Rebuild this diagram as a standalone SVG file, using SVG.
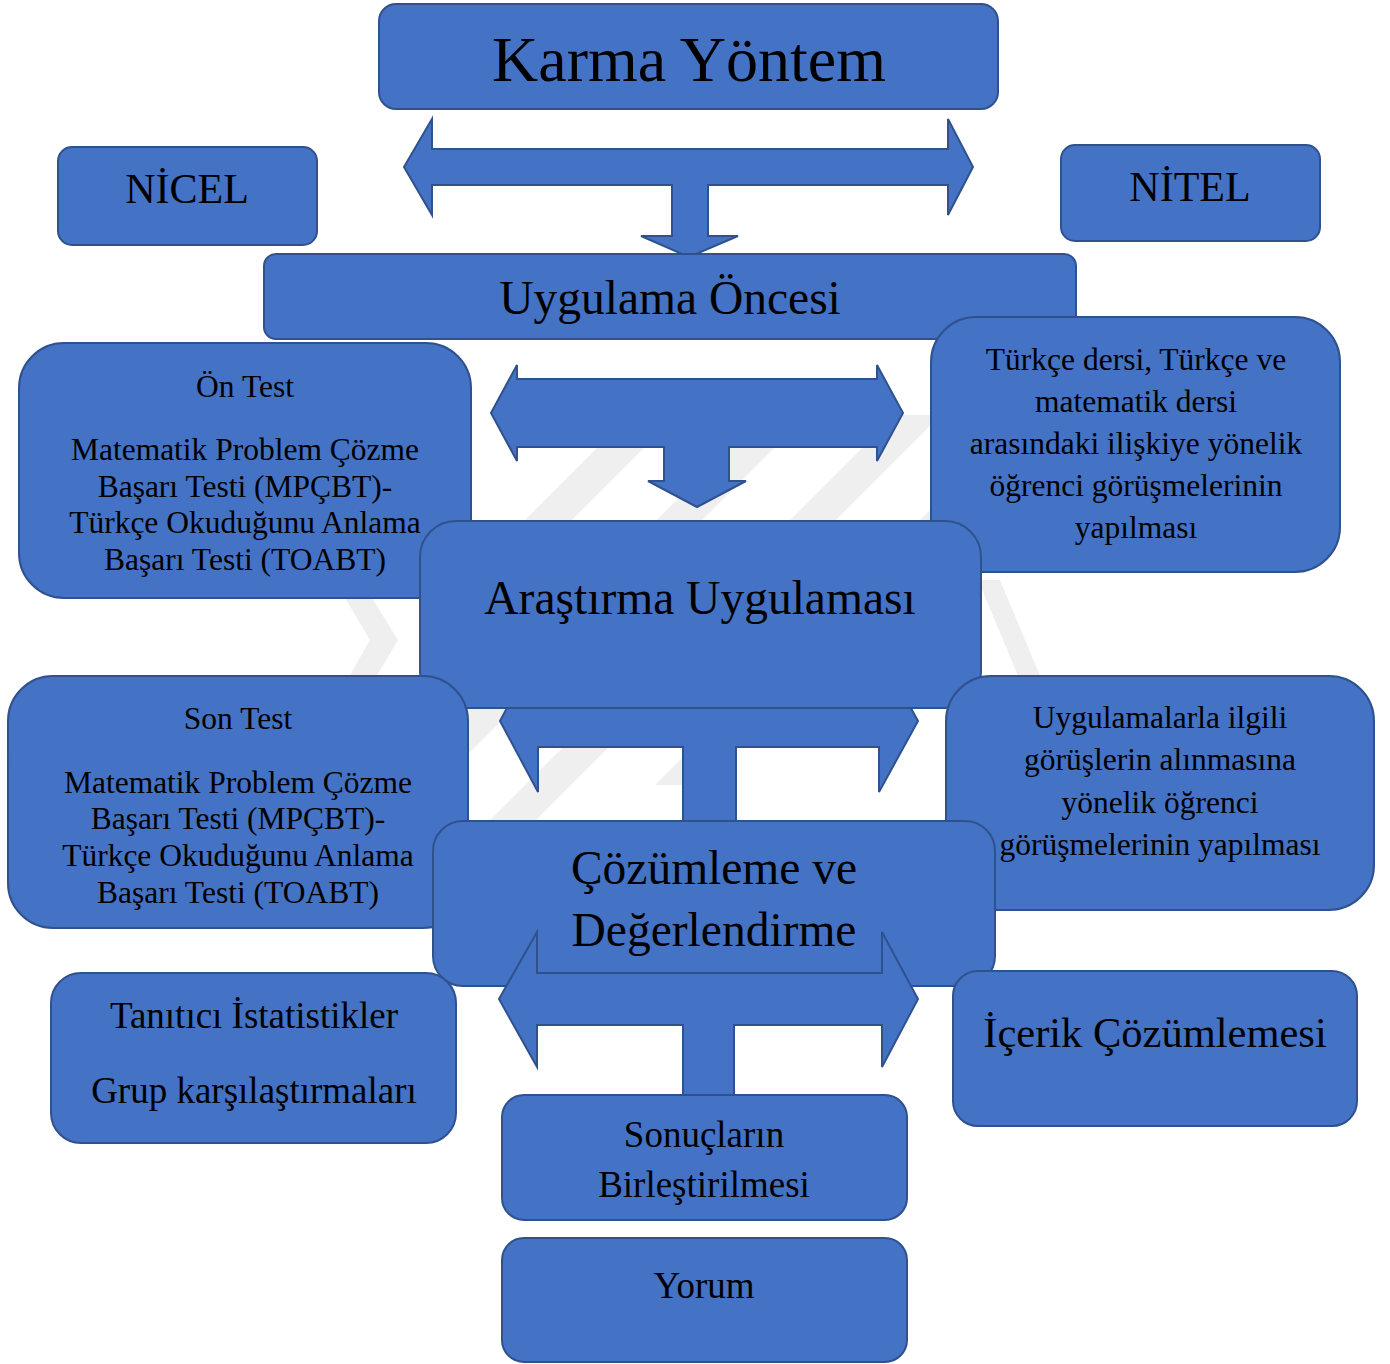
<svg xmlns="http://www.w3.org/2000/svg" width="1390" height="1364" viewBox="0 0 1390 1364">
<defs>
<style>
.box{fill:#4472C4;stroke:#2F528F;stroke-width:2}
.arr{fill:#4472C4;stroke:#2F528F;stroke-width:2;stroke-linejoin:miter}
text{font-family:"Liberation Serif","Times New Roman",serif;fill:#000;text-anchor:middle}
.s{font-size:31.5px}
.m{font-size:37px}
.l{font-size:47.5px}
.wm{fill:#EFEFEF}
</style>
<clipPath id="wmclip"><polygon points="420,415 960,415 960,830 420,830"/></clipPath>
</defs>
<rect width="1390" height="1364" fill="#fff"/>
<g id="watermark">
<g clip-path="url(#wmclip)">
<polygon class="wm" points="1045,0 1092,0 262,830 215,830"/>
<polygon class="wm" points="1177,0 1222,0 392,830 347,830"/>
<polygon class="wm" points="1310,0 1356,0 526,830 480,830"/>
<polygon class="wm" points="1440,0 1485,0 700,785 655,785"/>
</g>
<polygon class="wm" points="345,598 372,598 398,640 372,684 345,684 370,640"/>
<polygon class="wm" points="978,580 1000,580 1046,690 1024,690"/>
</g>
<g id="connectors">
<path id="arrow1" class="arr" d="M404,167 L432,119 L432,149 L948,149 L948,119 L973,167 L948,215 L948,185 L708,185 L708,236 L738,236 L689,257 L641,236 L672,236 L672,185 L432,185 L432,215 Z"/>
</g>
<g id="karma"><rect class="box" x="379" y="4" width="619" height="105" rx="17"/><text x="689" y="81" style="font-size:64px">Karma Yöntem</text></g>
<g id="nicel"><rect class="box" x="58" y="147" width="259" height="98" rx="14"/><text x="187" y="203" style="font-size:42px">NİCEL</text></g>
<g id="nitel"><rect class="box" x="1061" y="145" width="259" height="96" rx="14"/><text x="1190" y="201" style="font-size:42px">NİTEL</text></g>
<g id="uygulama-oncesi"><rect class="box" x="264" y="254" width="812" height="85" rx="12"/><text class="l" x="670" y="314">Uygulama Öncesi</text></g>
<g id="on-test"><rect class="box" x="19" y="343" width="452" height="255" rx="45"/>
<text class="s" x="245" y="397">Ön Test</text>
<text class="s" x="245" y="460">Matematik Problem Çözme</text>
<text class="s" x="245" y="497">Başarı Testi (MPÇBT)-</text>
<text class="s" x="245" y="533">Türkçe Okuduğunu Anlama</text>
<text class="s" x="245" y="570">Başarı Testi (TOABT)</text></g>
<g id="turkce-gorusme"><rect class="box" x="931" y="317" width="409" height="255" rx="45"/>
<text class="s" x="1136" y="370">Türkçe dersi, Türkçe ve</text>
<text class="s" x="1136" y="412">matematik dersi</text>
<text class="s" x="1136" y="454">arasındaki ilişkiye yönelik</text>
<text class="s" x="1136" y="496">öğrenci görüşmelerinin</text>
<text class="s" x="1136" y="538">yapılması</text></g>
<g id="connectors2">
<path id="arrow2" class="arr" d="M491,413 L517,365 L517,379 L877,379 L877,365 L903,413 L877,461 L877,447 L729,447 L729,481 L746,481 L697,507 L648,481 L664,481 L664,447 L517,447 L517,461 Z"/>
<path id="arrow3" class="arr" d="M500,721 L538,650 L538,695 L879,695 L879,650 L918,721 L879,792 L879,747 L736,747 L736,840 L683,840 L683,747 L538,747 L538,792 Z"/>
</g>
<g id="arastirma"><rect class="box" x="420" y="521" width="561" height="187" rx="36"/><text class="l" x="700" y="614">Araştırma Uygulaması</text></g>
<g id="son-test"><rect class="box" x="8" y="676" width="460" height="252" rx="45"/>
<text class="s" x="238" y="729">Son Test</text>
<text class="s" x="238" y="793">Matematik Problem Çözme</text>
<text class="s" x="238" y="829">Başarı Testi (MPÇBT)-</text>
<text class="s" x="238" y="866">Türkçe Okuduğunu Anlama</text>
<text class="s" x="238" y="903">Başarı Testi (TOABT)</text></g>
<g id="uygulama-gorusme"><rect class="box" x="946" y="676" width="428" height="234" rx="45"/>
<text class="s" x="1160" y="728">Uygulamalarla ilgili</text>
<text class="s" x="1160" y="770">görüşlerin alınmasına</text>
<text class="s" x="1160" y="813">yönelik öğrenci</text>
<text class="s" x="1160" y="855">görüşmelerinin yapılması</text></g>
<g id="cozumleme"><rect class="box" x="433" y="821" width="562" height="165" rx="30"/>
<text class="l" x="714" y="884">Çözümleme ve</text>
<text class="l" x="714" y="946">Değerlendirme</text></g>
<g id="tanitici"><rect class="box" x="51" y="973" width="405" height="170" rx="30"/>
<text class="m" x="254" y="1028">Tanıtıcı İstatistikler</text>
<text class="m" x="254" y="1103">Grup karşılaştırmaları</text></g>
<g id="icerik"><rect class="box" x="953" y="971" width="404" height="155" rx="25"/>
<text x="1155" y="1047" style="font-size:42.5px">İçerik Çözümlemesi</text></g>
<g id="connectors3">
<path id="arrow4" class="arr" d="M499,999 L537,932 L537,973 L882,973 L882,932 L918,999 L882,1067 L882,1025 L734,1025 L734,1110 L683,1110 L683,1025 L537,1025 L537,1067 Z"/>
</g>
<g id="sonuclar"><rect class="box" x="502" y="1095" width="405" height="125" rx="22"/>
<text class="m" x="704" y="1147">Sonuçların</text>
<text class="m" x="704" y="1197">Birleştirilmesi</text></g>
<g id="yorum"><rect class="box" x="502" y="1238" width="405" height="124" rx="22"/>
<text class="m" x="704" y="1298">Yorum</text></g>
</svg>
